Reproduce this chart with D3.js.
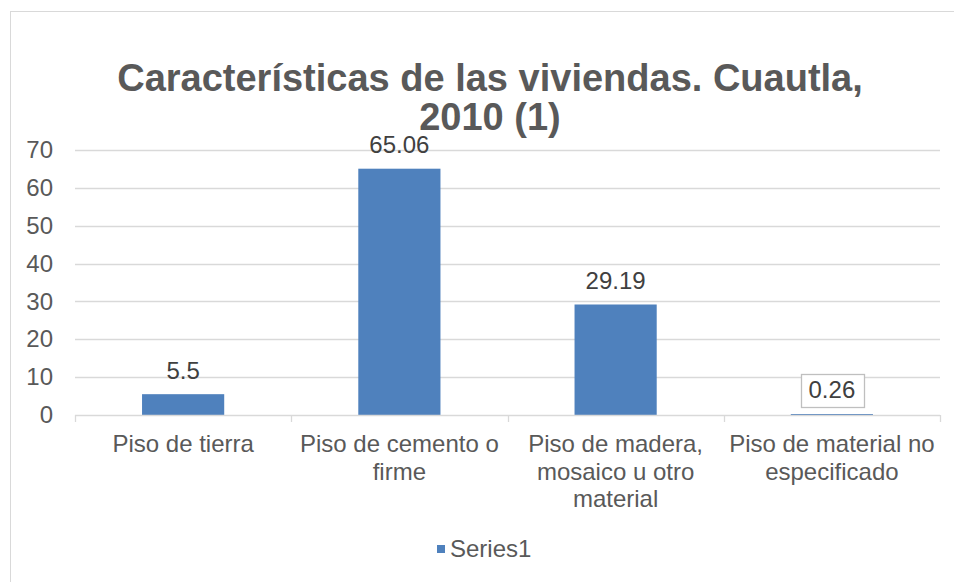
<!DOCTYPE html>
<html>
<head>
<meta charset="utf-8">
<script src="https://cdn.jsdelivr.net/npm/d3@7"></script>
<style>
  html, body { margin: 0; padding: 0; background: #fff; }
  svg { display: block; font-family: Arial, "Liberation Sans", sans-serif; }
</style>
</head>
<body>
<svg id="chart" width="954" height="582"></svg>
<script>
const title = ["Características de las viviendas. Cuautla,", "2010 (1)"];
const categories = ["Piso de tierra", "Piso de cemento o firme", "Piso de madera, mosaico u otro material", "Piso de material no especificado"];
const values = [5.5, 65.06, 29.19, 0.26];
const valueLabels = ["5.5", "65.06", "29.19", "0.26"];
const yTicks = [0, 10, 20, 30, 40, 50, 60, 70];
const seriesName = "Series1";

const svg = d3.select("#chart");
const plot = { left: 75, right: 940, top: 150, bottom: 415 };
const barColor = "#4F81BD";
const textColor = "#595959";

// outer chart border (cropped)
svg.append("rect").attr("x", 10.5).attr("y", 11.5).attr("width", 960).attr("height", 600)
  .attr("fill", "#fff").attr("stroke", "#D9D9D9").attr("stroke-width", 1);

// title
svg.append("text").attr("text-anchor", "middle")
  .attr("font-size", 38).attr("font-weight", "bold").attr("fill", textColor)
  .selectAll("tspan").data(title).join("tspan")
  .attr("x", 490).attr("y", (d, i) => 91 + i * 39).text(d => d);

const x = d3.scaleBand().domain(categories).range([plot.left, plot.right]).paddingInner(0.62).paddingOuter(0.31);
const y = d3.scaleLinear().domain([0, 70]).range([plot.bottom, plot.top]);

// gridlines
svg.append("g").selectAll("line").data(yTicks.filter(d => d > 0)).join("line")
  .attr("x1", plot.left).attr("x2", plot.right)
  .attr("y1", d => Math.round(y(d)) + 0.5).attr("y2", d => Math.round(y(d)) + 0.5)
  .attr("stroke", "#D9D9D9").attr("stroke-width", 1.3);

// y axis labels
const yAxis = d3.axisLeft(y).tickValues(yTicks).tickSize(0).tickPadding(22).tickFormat(d3.format("d"));
const gy = svg.append("g").attr("transform", `translate(${plot.left},0)`).call(yAxis);
gy.select(".domain").remove();
gy.selectAll("text").attr("font-size", 24).attr("fill", textColor).attr("font-family", "Arial, 'Liberation Sans', sans-serif");

// bars
svg.append("g").selectAll("rect").data(values).join("rect")
  .attr("x", (d, i) => x(categories[i]))
  .attr("width", x.bandwidth())
  .attr("y", d => y(d))
  .attr("height", d => y(0) - y(d))
  .attr("fill", barColor);

// x axis line and category boundary ticks
const step = (plot.right - plot.left) / categories.length;
const tickXs = d3.range(categories.length + 1).map(i => plot.left + i * step);
const gx = svg.append("g");
gx.append("line").attr("x1", plot.left).attr("x2", plot.right)
  .attr("y1", Math.round(y(0)) + 0.5).attr("y2", Math.round(y(0)) + 0.5)
  .attr("stroke", "#D9D9D9").attr("stroke-width", 1.3);
gx.selectAll("line.tk").data(tickXs).join("line").attr("class", "tk")
  .attr("x1", d => Math.round(d) + 0.5).attr("x2", d => Math.round(d) + 0.5)
  .attr("y1", Math.round(y(0))).attr("y2", Math.round(y(0)) + 7)
  .attr("stroke", "#D9D9D9").attr("stroke-width", 1.3);

// category labels with wrapping
const maxW = 212;
categories.forEach((c, i) => {
  const cx = x(c) + x.bandwidth() / 2;
  const t = svg.append("text").attr("text-anchor", "middle").attr("font-size", 24).attr("fill", textColor);
  const words = c.split(" ");
  let lines = [], cur = [];
  const probe = svg.append("text").attr("font-size", 24).attr("visibility", "hidden");
  words.forEach(w => {
    const test = cur.concat([w]).join(" ");
    probe.text(test);
    if (probe.node().getComputedTextLength() > maxW && cur.length) { lines.push(cur.join(" ")); cur = [w]; }
    else cur.push(w);
  });
  lines.push(cur.join(" "));
  probe.remove();
  lines.forEach((ln, j) => {
    t.append("tspan").attr("x", cx).attr("y", 452 + j * 27.5).text(ln);
  });
});

// data labels
values.forEach((v, i) => {
  const cx = x(categories[i]) + x.bandwidth() / 2;
  const cy = y(v) - 24;
  const g = svg.append("g");
  const box = g.append("rect");
  const t = g.append("text").attr("x", cx).attr("y", cy).attr("dy", "0.35em")
    .attr("text-anchor", "middle").attr("font-size", 24).attr("fill", "#404040").text(valueLabels[i]);
  if (i === 3) {
    const bb = t.node().getBBox();
    box.attr("x", Math.round(bb.x - 8) + 0.5).attr("y", Math.round(cy - 16.5) + 0.5)
      .attr("width", Math.round(bb.width + 16)).attr("height", 33)
      .attr("fill", "#fff").attr("stroke", "#BFBFBF").attr("stroke-width", 1.3);
  } else {
    box.remove();
  }
});

// legend
const lg = svg.append("g");
lg.append("rect").attr("x", 437).attr("y", 545).attr("width", 8).attr("height", 8).attr("fill", barColor);
lg.append("text").attr("x", 450).attr("y", 549).attr("dy", "0.35em").attr("font-size", 24).attr("fill", textColor).text(seriesName);
</script>
</body>
</html>
